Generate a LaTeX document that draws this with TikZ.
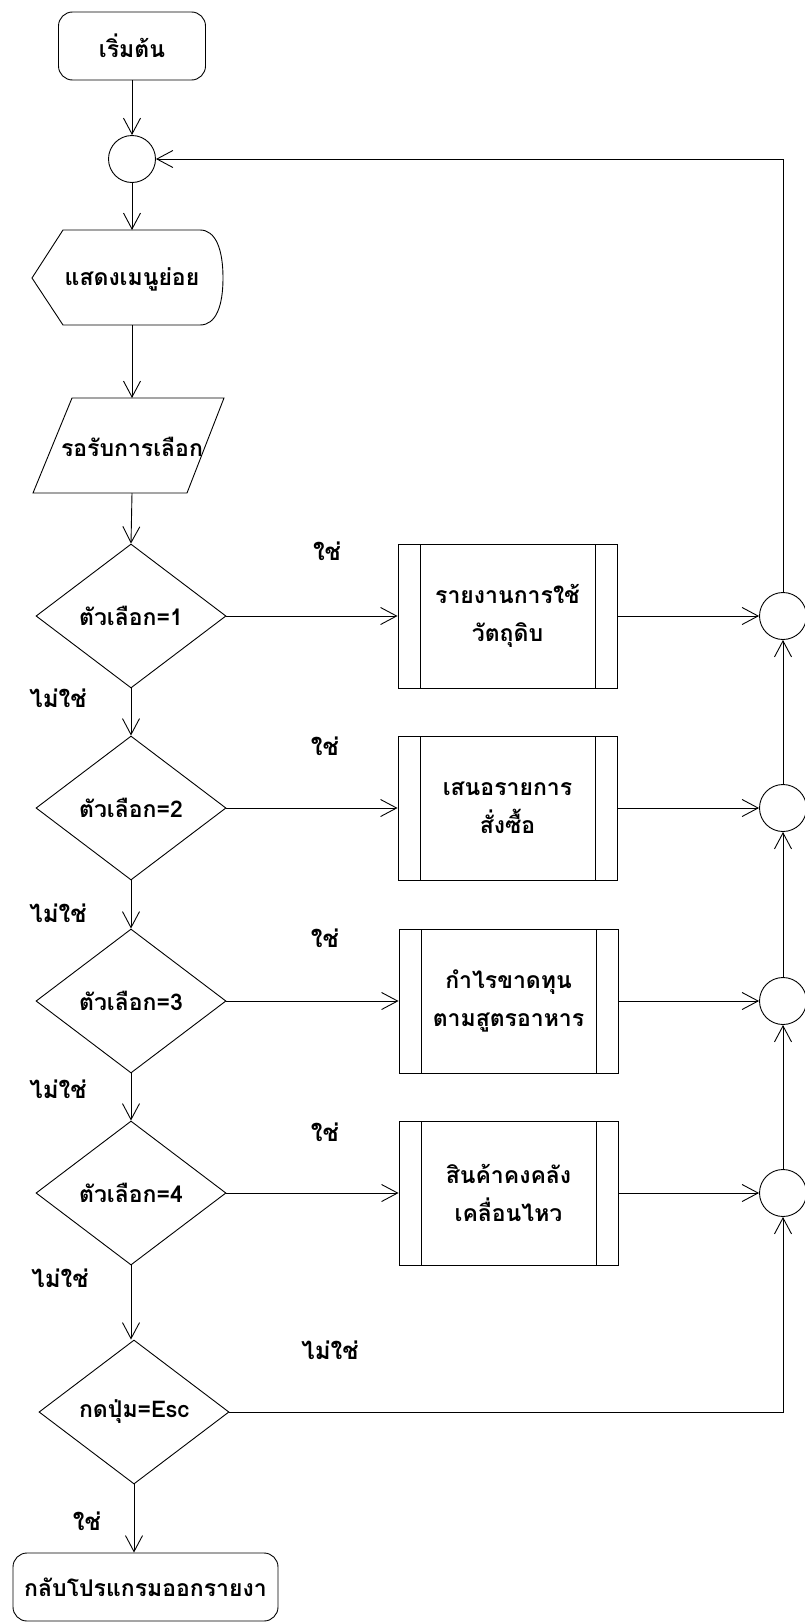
\documentclass[tikz,border=0pt]{standalone}
\usepackage{fontspec}
\newfontfamily\thaifont[Script=Thai]{Loma}
\usetikzlibrary{shapes.geometric,arrows.meta}
\begin{document}
\begin{tikzpicture}[x=1pt,y=-1pt,
  every node/.style={font=\thaifont\bfseries\fontsize{23}{38}\selectfont},
  line/.style={line width=0.9pt},
  arr/.style={line, -{Straight Barb[length=16pt,width=17pt,line width=0.9pt]}},
  term/.style={draw,line width=0.9pt,rounded corners=14pt,minimum height=68pt,inner sep=0pt},
  conn/.style={draw,circle,line width=0.9pt,minimum size=47pt,inner sep=0pt},
  dec/.style={draw,diamond,line width=0.9pt,minimum width=190pt,minimum height=144pt,inner sep=0pt},
  proc/.style={draw,rectangle,line width=0.9pt,minimum width=219pt,minimum height=144pt,align=center,inner sep=0pt,
    path picture={
      \draw[line width=0.9pt] ([xshift=22pt]path picture bounding box.north west) -- ([xshift=22pt]path picture bounding box.south west);
      \draw[line width=0.9pt] ([xshift=-22pt]path picture bounding box.north east) -- ([xshift=-22pt]path picture bounding box.south east);}},
  shapebox/.style={inner sep=0pt},
  lbl/.style={font=\thaifont\bfseries\fontsize{24}{26}\selectfont,inner sep=0pt}
]
\useasboundingbox (0,0) rectangle (805,1622);

% left column
\node[term,minimum width=147pt] (start) at (132,46) {เริ่มต้น};
\node[conn] (c0) at (132,159) {};

\node[shapebox,minimum width=191pt,minimum height=95pt] (disp) at (132,279) {แสดงเมนูย่อย};
\draw[line] (32,278) -- (63,230) -- (200,230)
  .. controls (216,230) and (223,250) .. (223,278)
  .. controls (223,306) and (216,325) .. (200,325) -- (63,325) -- cycle;

\node[shapebox,minimum width=150pt,minimum height=95pt] (inp) at (132,447) {รอรับการเลือก};
\draw[line] (72,398) -- (224,398) -- (187,493) -- (33,493) -- cycle;

\node[dec] (d1) at (131,616) {ตัวเลือก=1};
\node[dec] (d2) at (131,808) {ตัวเลือก=2};
\node[dec] (d3) at (131,1001) {ตัวเลือก=3};
\node[dec] (d4) at (131,1193) {ตัวเลือก=4};
\node[dec] (d5) at (134,1412) {กดปุ่ม=Esc};

\node[term,minimum width=265pt] (end) at (145.5,1587) {กลับโปรแกรมออกรายงา};

% process boxes
\node[proc] (p1) at (507.5,616) {รายงานการใช้\\วัตถุดิบ};
\node[proc] (p2) at (507.5,808) {เสนอรายการ\\สั่งซื้อ};
\node[proc] (p3) at (508.5,1001) {กำไรขาดทุน\\ตามสูตรอาหาร};
\node[proc] (p4) at (508.5,1193) {สินค้าคงคลัง\\เคลื่อนไหว};

% right connectors
\node[conn] (c1) at (783,616) {};
\node[conn] (c2) at (783,808) {};
\node[conn] (c3) at (783,1001) {};
\node[conn] (c4) at (783,1193) {};

% labels
\node[lbl] (y1) at (327,551) {ใช่};
\node[lbl] (y2) at (325,746) {ใช่};
\node[lbl] (y3) at (325,938) {ใช่};
\node[lbl] (y4) at (325,1132) {ใช่};
\node[lbl] (n1) at (58,698) {ไม่ใช่};
\node[lbl] (n2) at (58,913) {ไม่ใช่};
\node[lbl] (n3) at (58,1089) {ไม่ใช่};
\node[lbl] (n4) at (60,1278) {ไม่ใช่};
\node[lbl] (n5) at (330,1350) {ไม่ใช่};
\node[lbl] (y5) at (87,1521) {ใช่};

% vertical flow
\draw[arr] (start.south) -- (c0.north);
\draw[arr] (c0.south) -- (c0.south |- 0,230);
\draw[arr] (c0.south |- 0,325) -- (c0.south |- 0,398);
\draw[arr] (c0.south |- 0,493) -- (d1.north);
\draw[arr] (d1.south) -- (d2.north);
\draw[arr] (d2.south) -- (d3.north);
\draw[arr] (d3.south) -- (d4.north);
\draw[arr] (d4.south) -- (d4.south |- d5.north);
\draw[arr] (d5.south) -- (d5.south |- end.north);

% yes branches
\draw[arr] (d1.east) -- (p1.west);
\draw[arr] (d2.east) -- (p2.west);
\draw[arr] (d3.east) -- (p3.west);
\draw[arr] (d4.east) -- (p4.west);
\draw[arr] (p1.east) -- (c1.west);
\draw[arr] (p2.east) -- (c2.west);
\draw[arr] (p3.east) -- (c3.west);
\draw[arr] (p4.east) -- (c4.west);

% right collector
\draw[arr] (c4.north) -- (c3.south);
\draw[arr] (c3.north) -- (c2.south);
\draw[arr] (c2.north) -- (c1.south);
\draw[arr] (c1.north) |- (c0.east);
\draw[arr] (d5.east) -| (c4.south);
\end{tikzpicture}
\end{document}
